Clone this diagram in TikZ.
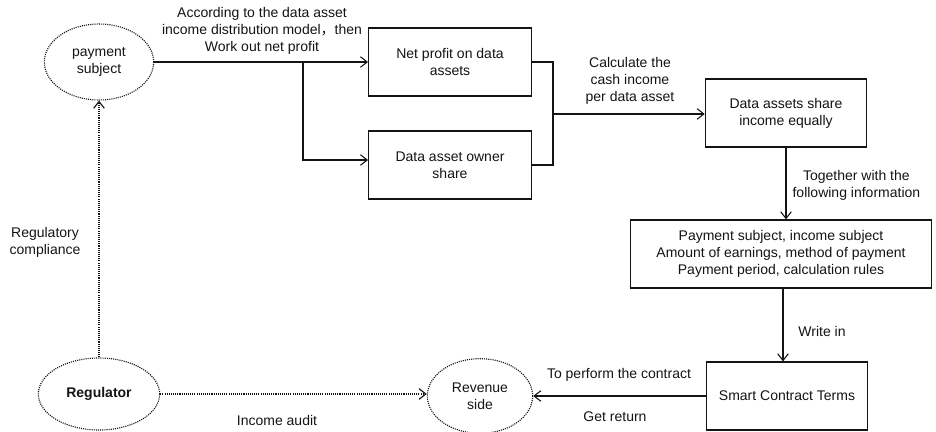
\documentclass[tikz,border=0pt]{standalone}
\usepackage{fontspec}
\setmainfont{Liberation Sans}
\newfontfamily\cjk{Noto Sans CJK SC}
\usetikzlibrary{arrows.meta,positioning,shapes.geometric}
\definecolor{Ink}{RGB}{20,20,20}
\tikzset{
  box/.style={draw=Ink, line width=0.9pt, fill=white, text=Ink, align=center,
    minimum width=122pt, minimum height=51pt, inner sep=3pt},
  party/.style={ellipse, draw=Ink, line width=0.85pt, dash pattern=on 0.8pt off 0.8pt,
    text=Ink, align=center, inner sep=1pt},
  note/.style={align=center, text=Ink, inner sep=1pt},
  flowarr/.style={-{Straight Barb[length=1.8mm,width=2.8mm]}, draw=Ink, line width=0.8pt},
  flowline/.style={draw=Ink, line width=0.8pt},
  dotarr/.style={-{Straight Barb[length=1.8mm,width=2.8mm]}, draw=Ink, line width=0.85pt,
    dash pattern=on 0.8pt off 0.8pt},
}

\begin{document}
\begin{tikzpicture}[x=0.75pt, y=-0.75pt, font=\fontsize{10.5}{12.75}\selectfont]
\useasboundingbox (0,0) rectangle (936,432);

% ---- parties (dotted ellipses) ----
\node[party, minimum width=82pt, minimum height=57pt] (pay) at (99,62) {payment\\subject};
\node[party, minimum width=91pt, minimum height=54pt] (reg) at (99,394) {\textbf{Regulator}};
\node[party, minimum width=79pt, minimum height=56pt] (rev) at (480,396) {Revenue\\side};

% ---- process boxes ----
\node[box] (netp) at (450,62) {Net profit on data\\assets};
\node[box] (owner) at (450,165) {Data asset owner\\share};
\node[box, minimum width=121pt] (share) at (786,113) {Data assets share\\income equally};
\node[box, minimum width=226pt] (info) at (781,254)
  {Payment subject, income subject\\Amount of earnings, method of payment\\Payment period, calculation rules};
\node[box, minimum width=121pt] (sct) at (787,396) {Smart Contract Terms};

% split and merge points
\coordinate (split) at (303,62);
\coordinate (merge) at (553,114);

% ---- connectors ----
\draw[flowarr] (pay.east) -- (netp.west);
\draw[flowarr] (split) |- ([yshift=3.75pt]owner.west);
\draw[flowline] (netp.east) -| (merge) |- (owner.east);
\draw[flowarr] (merge) -- (merge -| share.west);
\draw[flowarr] (share.south) -- (share.south |- info.north);
\draw[flowarr] ([xshift=-3pt]sct.north |- info.south) -- ([xshift=-3pt]sct.north);
\draw[flowarr] (sct.west) -- (rev.east);
\draw[dotarr] (reg.east) -- (reg.east -| rev.west);
\draw[dotarr] (reg.north) -- (pay.south);

% ---- labels ----
\node[note] (lmodel) at (262,31) {According to the data asset\\income distribution model{\cjk ，}then\\Work out net profit};
\node[note] (lcash) at (630,81) {Calculate the\\cash income\\per data asset};
\node[note, anchor=west] (ltog) at (791,185) {Together with the\\following information};
\node[note] (lwrite) at (822,331) {Write in};
\node[note] (lperf) at (619,375) {To perform the contract};
\node[note] (lret) at (615,417) {Get return};
\node[note] (laudit) at (277,420) {Income audit};
\node[note] (lcomp) at (45,242) {Regulatory\\compliance};

\end{tikzpicture}
\end{document}
